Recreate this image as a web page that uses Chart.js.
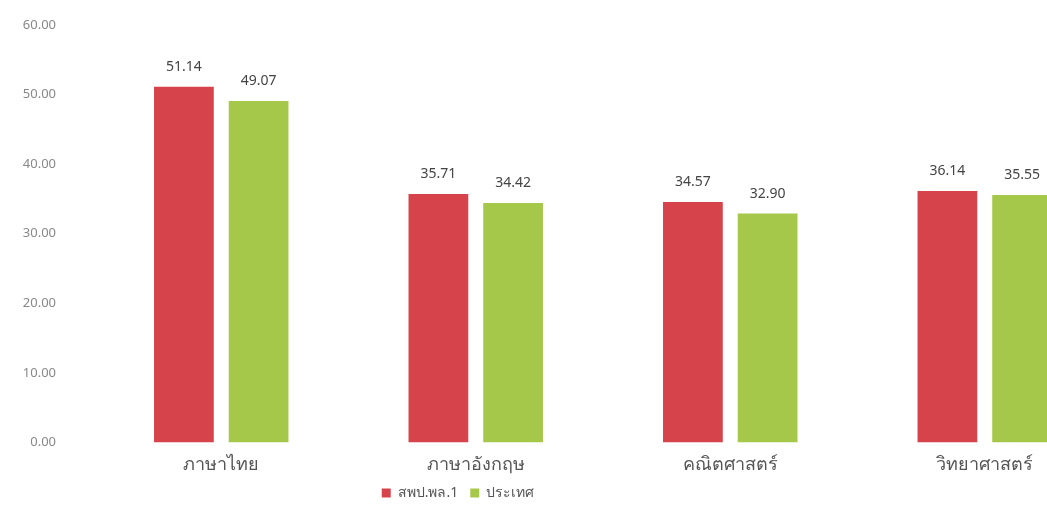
<!DOCTYPE html>
<html>
<head>
<meta charset="utf-8">
<script src="https://cdn.jsdelivr.net/npm/chart.js@4.4.1/dist/chart.umd.min.js"></script>
<style>
  html, body { margin: 0; padding: 0; background: #fff; overflow: hidden; }
  #wrap { width: 1116px; height: 531px; }
</style>
</head>
<body>
<div id="wrap"><canvas id="scoreChart" width="1116" height="531"></canvas></div>
<script>
// ===================== Data =====================
const subjects = ['ภาษาไทย', 'ภาษาอังกฤษ', 'คณิตศาสตร์', 'วิทยาศาสตร์'];
const areaScores = [51.14, 35.71, 34.57, 36.14];     // สพป.พล.1
const nationScores = [49.07, 34.42, 32.90, 35.55];   // ประเทศ
const seriesNames = ['สพป.พล.1', 'ประเทศ'];
const yTicks = [0, 10, 20, 30, 40, 50, 60];

const FONT = "'Noto Sans', 'DejaVu Sans', sans-serif";

// value labels above each bar
const valueLabels = {
  id: 'valueLabels',
  afterDatasetsDraw(chart) {
    const ctx = chart.ctx;
    ctx.save();
    ctx.font = '14px ' + FONT;
    ctx.fillStyle = '#444';
    ctx.textAlign = 'center';
    ctx.textBaseline = 'bottom';
    chart.data.datasets.forEach((ds, i) => {
      chart.getDatasetMeta(i).data.forEach((bar, j) => {
        ctx.fillText(ds.data[j].toFixed(2), bar.x, bar.y - 13);
      });
    });
    ctx.restore();
  }
};

// legend sits left of canvas centre (the chart is cropped on the right)
const shiftLegend = {
  id: 'shiftLegend',
  afterLayout(chart) {
    const dx = 98, dy = 14;
    chart.legend.left -= dx;
    chart.legend.right -= dx;
    chart.legend.top -= dy;
    chart.legend.bottom -= dy;
  }
};

new Chart(document.getElementById('scoreChart').getContext('2d'), {
  type: 'bar',
  data: {
    labels: subjects,
    datasets: [
      { label: seriesNames[0], data: areaScores, backgroundColor: '#d6434b' },
      { label: seriesNames[1], data: nationScores, backgroundColor: '#a6c84a' }
    ]
  },
  options: {
    responsive: false,
    animation: false,
    categoryPercentage: 0.587,
    barPercentage: 0.8,
    layout: { padding: { top: 25, right: 4, left: 0, bottom: 7 } },
    plugins: {
      legend: {
        position: 'bottom',
        labels: {
          boxWidth: 9, boxHeight: 9, padding: 12,
          color: '#555', font: { family: FONT, size: 14 }
        }
      },
      tooltip: { enabled: false }
    },
    scales: {
      x: {
        grid: { display: false, drawTicks: false },
        border: { display: false },
        ticks: { color: '#555', padding: 12, font: { family: FONT, size: 18 } }
      },
      y: {
        min: 0, max: 60,
        afterBuildTicks: axis => { axis.ticks = yTicks.map(v => ({ value: v })); },
        afterFit: axis => {
          axis.width = 94;
          axis.paddingTop = 9;
          axis.paddingBottom = 9;
        },
        grid: { display: false, drawTicks: false },
        border: { display: false },
        ticks: {
          color: '#888', padding: 38, font: { family: FONT, size: 13 },
          callback: v => v.toFixed(2)
        }
      }
    }
  },
  plugins: [valueLabels, shiftLegend]
});
</script>
</body>
</html>
